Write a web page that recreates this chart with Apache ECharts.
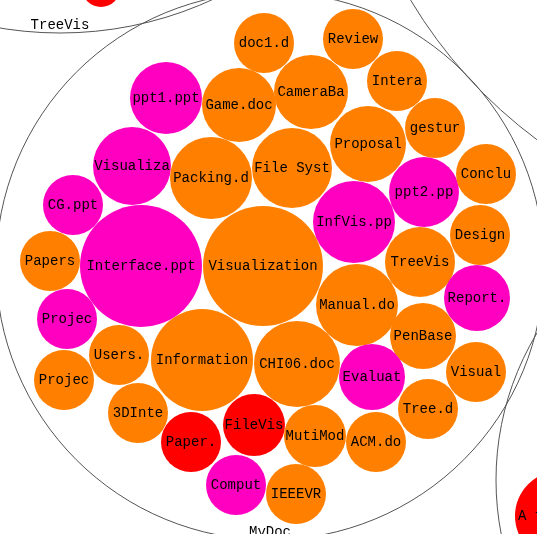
<!DOCTYPE html>
<html>
<head>
<meta charset="utf-8">
<title>MyDoc circle packing</title>
<script src="https://cdn.jsdelivr.net/npm/echarts@6/dist/echarts.min.js"></script>
<style>
  html, body { margin: 0; padding: 0; background: #fff; }
  #main { width: 537px; height: 534px; }
</style>
</head>
<body>
<div id="main"></div>
<script>
// leaf files: label, layout x, layout y, radius (layout units), file kind
var leafNames = ['ppt1.ppt', 'Game.doc', 'doc1.d', 'Review', 'CameraBa', 'Intera', 'Proposal', 'gestur',
  'File Syst', 'Visualiza', 'Packing.d', 'CG.ppt', 'ppt2.pp', 'Conclu', 'InfVis.pp', 'Design',
  'Papers', 'Interface.ppt', 'Visualization', 'TreeVis', 'Report.', 'Manual.do', 'Projec', 'PenBase',
  'Users.', 'Information', 'CHI06.doc', 'Evaluat', 'Visual', 'Projec', '3DInte', 'Tree.d',
  'FileVis', 'MutiMod', 'Paper.', 'ACM.do', 'Comput', 'IEEEVR', 'A focus+co', 'Graph'];
var leafX = [166, 239, 264, 353, 311, 397, 368, 435,
  292, 132, 211, 73, 424, 486, 354, 480,
  50, 141, 263, 420, 477, 357, 67, 423,
  119, 202, 297, 372, 476, 64, 138, 428,
  254, 315, 191, 376, 236, 296, 560, 101];
var leafY = [98, 105, 43, 39, 92, 81, 144, 128,
  168, 166, 178, 205, 192, 174, 222, 235,
  261, 266, 266, 262, 298, 305, 319, 336,
  355, 360, 364, 377, 372, 380, 413, 409,
  425, 436, 442, 442, 485, 494, 516, -12];
var leafR = [36, 37, 30, 30, 37, 30, 38, 30,
  40, 39, 41, 30, 35, 30, 41, 30,
  30, 61, 60, 35, 33, 41, 30, 33,
  30, 51, 43, 33, 30, 30, 30, 30,
  31, 31, 30, 30, 30, 30, 45, 19];
var leafKind = ['ppt', 'doc', 'doc', 'doc', 'doc', 'doc', 'doc', 'doc',
  'doc', 'ppt', 'doc', 'ppt', 'ppt', 'doc', 'ppt', 'doc',
  'doc', 'ppt', 'doc', 'doc', 'ppt', 'doc', 'ppt', 'doc',
  'doc', 'doc', 'doc', 'ppt', 'doc', 'doc', 'doc', 'doc',
  'pdf', 'doc', 'pdf', 'doc', 'ppt', 'doc', 'pdf', 'pdf'];

// folders (outline circles)
var folderNames = ['MyDoc', 'TreeVis', '', ''];
var folderX = [270, 60, 825, 780];
var folderY = [266, -332, -248, 480];
var folderR = [274, 365, 483, 284];

var kindColor = { doc: '#ff8000', ppt: '#ff00c0', pdf: '#ff0000' };
var labelFont = '14px "Liberation Mono", "DejaVu Sans Mono", monospace';

var leafData = leafNames.map(function (n, i) {
  return [leafX[i], leafY[i], leafR[i], i];
});
var folderData = folderNames.map(function (n, i) {
  return [folderX[i], folderY[i], folderR[i], i];
});

function renderFolder(params, api) {
  var x = api.value(0), y = api.value(1), rr = api.value(2);
  var c = api.coord([x, y]);
  var r = api.size([rr, rr])[0];
  var bottom = api.coord([x, y + rr]);
  return {
    type: 'group',
    children: [
      { type: 'circle', shape: { cx: c[0], cy: c[1], r: r },
        style: { fill: 'none', stroke: '#555', lineWidth: 1 } },
      { type: 'text', style: { text: folderNames[api.value(3)], x: bottom[0], y: bottom[1] - 8,
        align: 'center', verticalAlign: 'middle', font: labelFont, fill: '#000' } }
    ]
  };
}

function renderLeaf(params, api) {
  var i = api.value(3);
  var c = api.coord([api.value(0), api.value(1)]);
  var r = api.size([api.value(2), api.value(2)])[0];
  return {
    type: 'group',
    children: [
      { type: 'circle', shape: { cx: c[0], cy: c[1], r: r },
        style: { fill: kindColor[leafKind[i]] } },
      { type: 'text', style: { text: leafNames[i], x: c[0], y: c[1],
        align: 'center', verticalAlign: 'middle', font: labelFont, fill: '#000' } }
    ]
  };
}

var chart = echarts.init(document.getElementById('main'));
var option = {
  animation: false,
  backgroundColor: '#fff',
  grid: { left: 0, right: 0, top: 0, bottom: 0 },
  xAxis: { type: 'value', min: 0, max: 537, show: false },
  yAxis: { type: 'value', min: 0, max: 534, inverse: true, show: false },
  series: [
    { type: 'custom', name: 'folders', renderItem: renderFolder, data: folderData,
      encode: { x: 0, y: 1 }, clip: false, silent: true },
    { type: 'custom', name: 'files', renderItem: renderLeaf, data: leafData,
      encode: { x: 0, y: 1 }, clip: false }
  ]
};
chart.setOption(option);
</script>
</body>
</html>
